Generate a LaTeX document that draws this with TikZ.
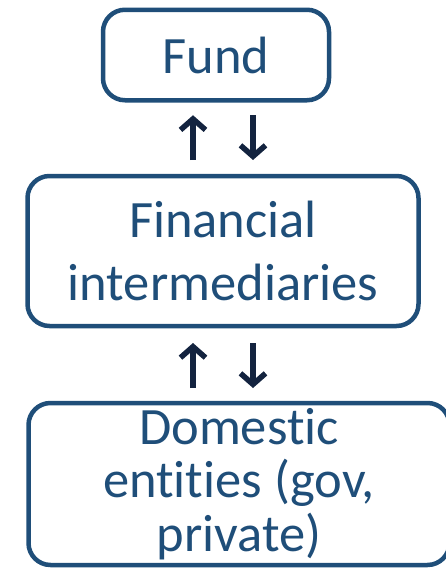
\documentclass[tikz,border=0pt]{standalone}
\usepackage{fontspec}
\setmainfont[Ligatures=NoCommon]{Carlito}
\usetikzlibrary{arrows.meta}
\definecolor{boxblu}{HTML}{1F4E79}
\definecolor{frecce}{HTML}{13233F}
\begin{document}
\begin{tikzpicture}[x=1pt,y=-1pt,
    scatola/.style={draw=boxblu, line width=4.5pt, rounded corners=22pt, text=boxblu,
      align=center, inner sep=0pt, outer sep=0pt},
    freccia/.style={draw=frecce, line width=5.5pt, -{Straight Barb[length=11pt,width=25pt]}}]
        % Bordo della figura
        \useasboundingbox (0,0) rectangle (445,570);

        % Disegna le scatole
        \node[scatola, minimum width=226pt, minimum height=90.5pt,
          font=\fontsize{52.5}{60}\selectfont] (fund) at (216,55) {Fund};
        \node[scatola, minimum width=391pt, minimum height=150pt,
          font=\fontsize{52.5}{63}\selectfont] (fin) at (223,251) {Financial\\intermediaries};
        \node[scatola, minimum width=421pt, minimum height=162pt,
          font=\fontsize{52.5}{53.5}\selectfont] (dom) at (239,484) {Domestic\\entities (gov,\\private)};

        % Frecce tra fund e intermediari
        \draw[freccia, shorten <=16pt, shorten >=15pt]
          ([xshift=-30pt]fin.north) -- ([xshift=-30pt]fin.north |- fund.south);
        \draw[freccia, shorten <=15pt, shorten >=16pt]
          ([xshift=30pt]fin.north |- fund.south) -- ([xshift=30pt]fin.north);

        % Frecce tra intermediari ed enti
        \draw[freccia, shorten <=15pt, shorten >=17pt]
          ([xshift=-30pt]fin.south |- dom.north) -- ([xshift=-30pt]fin.south);
        \draw[freccia, shorten <=17pt, shorten >=15pt]
          ([xshift=30pt]fin.south) -- ([xshift=30pt]fin.south |- dom.north);
\end{tikzpicture}
\end{document}
